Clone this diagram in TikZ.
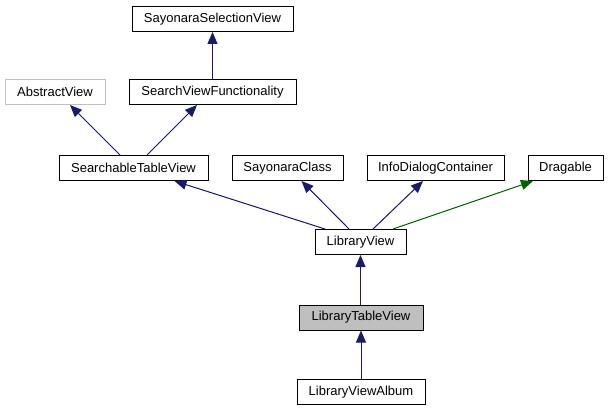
\documentclass[tikz,border=0pt]{standalone}
\usepackage{fontspec}
\setmainfont{Liberation Sans}
\usetikzlibrary{arrows.meta}

\definecolor{edgeblue}{RGB}{25,25,112}
\definecolor{edgegreen}{RGB}{0,100,0}
\definecolor{framegray}{RGB}{191,191,191}

\begin{document}
\begin{tikzpicture}[
    x=1pt, y=-1pt,
    cls/.style={rectangle, draw=black, fill=white, line width=1pt, minimum height=25pt, inner sep=0pt, font=\fontsize{13}{15}\selectfont},
    extcls/.style={cls, draw=framegray},
    curcls/.style={cls, fill=framegray},
    arrow/.style={-{Triangle[length=12pt, width=10pt]}, line width=1pt, draw=edgeblue, fill=edgeblue},
    privarrow/.style={arrow, draw=edgegreen, fill=edgegreen}
]
    \useasboundingbox (0,0) rectangle (609,411);

    % classes
    \node[cls, minimum width=161pt] (selview) at (212.5,19) {SayonaraSelectionView};
    \node[extcls, minimum width=100pt] (abstract) at (55,92) {AbstractView};
    \node[cls, minimum width=167pt] (searchfunc) at (212.5,92) {SearchViewFunctionality};
    \node[cls, minimum width=149pt] (searchable) at (133.5,168) {SearchableTableView};
    \node[cls, minimum width=111pt] (sayclass) at (287.5,168) {SayonaraClass};
    \node[cls, minimum width=137pt] (infodialog) at (435.5,168) {InfoDialogContainer};
    \node[cls, minimum width=75pt] (dragable) at (565.5,168) {Dragable};
    \node[cls, minimum width=91pt] (libview) at (360.5,242) {LibraryView};
    \node[curcls, minimum width=124pt] (libtable) at (361,317.5) {LibraryTableView};
    \node[cls, minimum width=128pt] (libalbum) at (361,392) {LibraryViewAlbum};

    % inheritance
    \draw[arrow] (searchfunc.north) -- (selview.south);
    \draw[arrow] ([xshift=-13.5pt]searchable.north) -- ([xshift=15pt]abstract.south);
    \draw[arrow] ([xshift=13.5pt]searchable.north) -- ([xshift=-15.5pt]searchfunc.south);
    \draw[arrow] ([xshift=-35.5pt]libview.north) -- ([xshift=41pt]searchable.south);
    \draw[arrow] ([xshift=-11.5pt]libview.north) -- ([xshift=14pt]sayclass.south);
    \draw[arrow] ([xshift=12.5pt]libview.north) -- ([xshift=-12.5pt]infodialog.south);
    \draw[privarrow] ([xshift=32.5pt]libview.north) -- ([xshift=-32.5pt]dragable.south);
    \draw[arrow] ([xshift=-0.5pt]libtable.north) -- (libview.south);
    \draw[arrow] (libalbum.north) -- (libtable.south);
\end{tikzpicture}
\end{document}
